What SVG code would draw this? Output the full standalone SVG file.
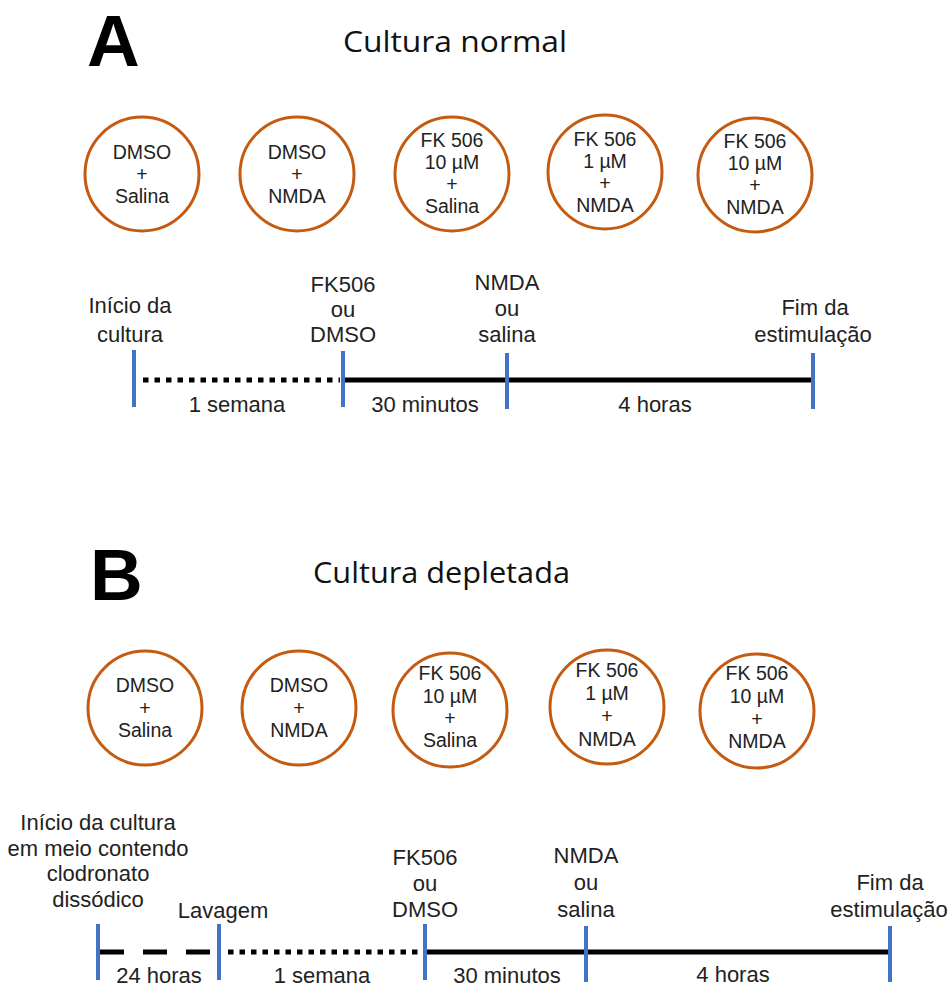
<svg xmlns="http://www.w3.org/2000/svg" width="951" height="987" viewBox="0 0 951 987">
<style>
.bg{fill:#ffffff}
.circ{fill:#ffffff;stroke:#C55A11;stroke-width:3}
.ct{font-family:"Liberation Sans",Arial,sans-serif;font-size:19.5px;fill:#222;text-anchor:middle}
.lb{font-family:"Liberation Sans",Arial,sans-serif;font-size:22px;fill:#222;text-anchor:middle}
.big{font-family:"Liberation Sans",Arial,sans-serif;font-weight:bold;font-size:73px;fill:#000}
.ttl{font-family:"Open Sans","Noto Sans",sans-serif;font-size:29px;fill:#111}
.tick{stroke:#4472C4;stroke-width:4}
.solid{stroke:#000;stroke-width:5}
.dot{stroke:#000;stroke-width:5;stroke-dasharray:5.5 6}
.dash{stroke:#000;stroke-width:5;stroke-dasharray:24 19}
</style>
<rect class="bg" x="0" y="0" width="951" height="987"/>

<!-- Panel A -->
<g id="titleA">
<text class="big" x="87" y="66">A</text>
<text class="ttl" x="343" y="52" textLength="224" lengthAdjust="spacingAndGlyphs">Cultura normal</text>
</g>
<g id="A-c1"><circle class="circ" cx="142" cy="174" r="57"/>
<text class="ct" x="142" y="159">DMSO</text><text class="ct" x="142" y="181">+</text><text class="ct" x="142" y="203">Salina</text></g>
<g id="A-c2"><circle class="circ" cx="297" cy="174" r="57"/>
<text class="ct" x="297" y="159">DMSO</text><text class="ct" x="297" y="181">+</text><text class="ct" x="297" y="203">NMDA</text></g>
<g id="A-c3"><circle class="circ" cx="452" cy="174" r="57"/>
<text class="ct" x="452" y="147">FK 506</text><text class="ct" x="452" y="169">10 µM</text><text class="ct" x="452" y="191">+</text><text class="ct" x="452" y="213">Salina</text></g>
<g id="A-c4"><circle class="circ" cx="605" cy="172" r="57"/>
<text class="ct" x="605" y="146">FK 506</text><text class="ct" x="605" y="168">1 µM</text><text class="ct" x="605" y="190">+</text><text class="ct" x="605" y="212">NMDA</text></g>
<g id="A-c5"><circle class="circ" cx="755" cy="175" r="57"/>
<text class="ct" x="755" y="148">FK 506</text><text class="ct" x="755" y="170">10 µM</text><text class="ct" x="755" y="192">+</text><text class="ct" x="755" y="214">NMDA</text></g>

<g id="A-connectors">
<line class="dot" x1="143" y1="380" x2="340" y2="380"/>
<line class="solid" x1="343" y1="380" x2="813" y2="380"/>
</g>
<g id="A-ticks">
<line class="tick" x1="134" y1="350" x2="134" y2="407"/>
<line class="tick" x1="343" y1="351" x2="343" y2="407"/>
<line class="tick" x1="507" y1="353" x2="507" y2="409"/>
<line class="tick" x1="813" y1="353" x2="813" y2="409"/>
</g>
<g id="A-labels">
<text class="lb" x="130" y="313">Início da</text><text class="lb" x="130" y="342">cultura</text>
<text class="lb" x="343" y="292">FK506</text><text class="lb" x="343" y="317">ou</text><text class="lb" x="343" y="342">DMSO</text>
<text class="lb" x="507" y="290">NMDA</text><text class="lb" x="507" y="316">ou</text><text class="lb" x="507" y="342">salina</text>
<text class="lb" x="815" y="315">Fim da</text><text class="lb" x="813" y="342">estimulação</text>
<text class="lb" x="237" y="412">1 semana</text>
<text class="lb" x="425" y="412">30 minutos</text>
<text class="lb" x="655" y="412">4 horas</text>
</g>

<!-- Panel B -->
<g id="titleB">
<text class="big" x="90" y="600">B</text>
<text class="ttl" x="313" y="583" textLength="257" lengthAdjust="spacingAndGlyphs">Cultura depletada</text>
</g>
<g id="B-c1"><circle class="circ" cx="145" cy="708" r="57"/>
<text class="ct" x="145" y="692">DMSO</text><text class="ct" x="145" y="714.5">+</text><text class="ct" x="145" y="737">Salina</text></g>
<g id="B-c2"><circle class="circ" cx="299" cy="708" r="57"/>
<text class="ct" x="299" y="692">DMSO</text><text class="ct" x="299" y="714.5">+</text><text class="ct" x="299" y="737">NMDA</text></g>
<g id="B-c3"><circle class="circ" cx="450" cy="710" r="57"/>
<text class="ct" x="450" y="680">FK 506</text><text class="ct" x="450" y="702.5">10 µM</text><text class="ct" x="450" y="725">+</text><text class="ct" x="450" y="747">Salina</text></g>
<g id="B-c4"><circle class="circ" cx="607" cy="707" r="57"/>
<text class="ct" x="607" y="677">FK 506</text><text class="ct" x="607" y="700">1 µM</text><text class="ct" x="607" y="723">+</text><text class="ct" x="607" y="746">NMDA</text></g>
<g id="B-c5"><circle class="circ" cx="757" cy="711" r="57"/>
<text class="ct" x="757" y="680">FK 506</text><text class="ct" x="757" y="703">10 µM</text><text class="ct" x="757" y="725.5">+</text><text class="ct" x="757" y="748">NMDA</text></g>

<g id="B-connectors">
<line class="dash" x1="100" y1="952" x2="217" y2="952"/>
<line class="dot" x1="228" y1="952" x2="423" y2="952"/>
<line class="solid" x1="425" y1="952" x2="890" y2="952"/>
</g>
<g id="B-ticks">
<line class="tick" x1="98" y1="924" x2="98" y2="980"/>
<line class="tick" x1="219" y1="924" x2="219" y2="980"/>
<line class="tick" x1="425" y1="924" x2="425" y2="980"/>
<line class="tick" x1="586" y1="926" x2="586" y2="982"/>
<line class="tick" x1="890" y1="926" x2="890" y2="982"/>
</g>
<g id="B-labels">
<text class="lb" x="98" y="830">Início da cultura</text>
<text class="lb" x="98" y="856">em meio contendo</text>
<text class="lb" x="98" y="881">clodronato</text>
<text class="lb" x="98" y="907">dissódico</text>
<text class="lb" x="223" y="918">Lavagem</text>
<text class="lb" x="425" y="865">FK506</text><text class="lb" x="425" y="891">ou</text><text class="lb" x="425" y="917">DMSO</text>
<text class="lb" x="586" y="863">NMDA</text><text class="lb" x="586" y="890">ou</text><text class="lb" x="586" y="917">salina</text>
<text class="lb" x="890" y="890">Fim da</text><text class="lb" x="889" y="917">estimulação</text>
<text class="lb" x="159" y="983">24 horas</text>
<text class="lb" x="322" y="983">1 semana</text>
<text class="lb" x="507" y="983">30 minutos</text>
<text class="lb" x="733" y="982">4 horas</text>
</g>
</svg>
